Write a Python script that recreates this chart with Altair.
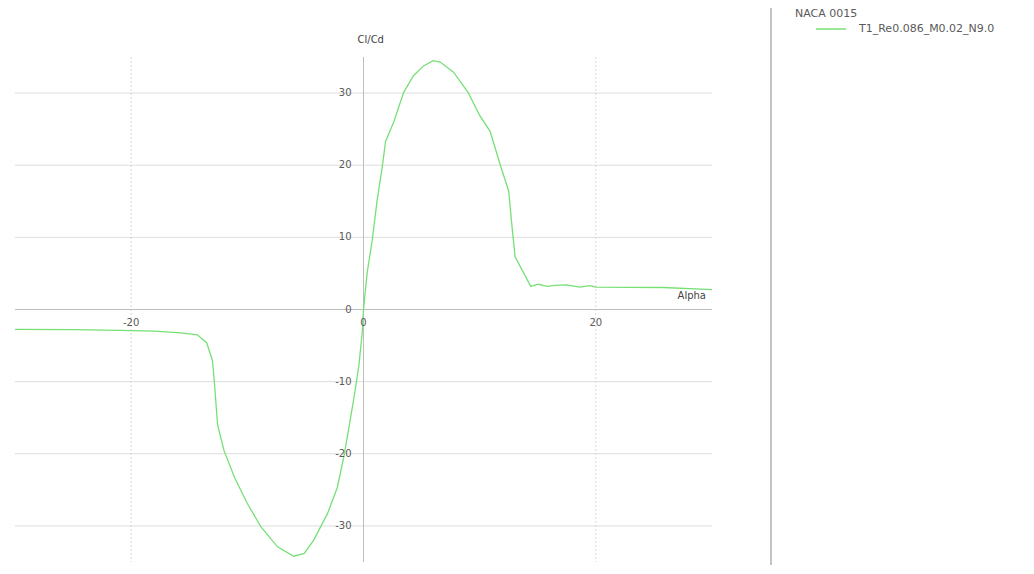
import altair as alt
import pandas as pd

# Curve: angle of attack (deg) and Cl/Cd
alpha = [-30.0, -25.0, -21.0, -18.0, -15.7, -14.3, -13.5, -13.0, -12.85, -12.56, -12.0,
         -11.1, -10.0, -8.84, -7.4, -6.0, -5.1, -4.3, -3.1, -2.26, -1.7, -1.26, -0.83,
         -0.4, -0.11, 0.0, 0.31, 0.75, 1.17, 1.6, 1.9, 2.6, 3.46, 4.3, 5.2, 6.0, 6.6,
         7.75, 9.0, 10.0, 10.9, 11.76, 12.5, 12.76, 13.05, 14.4, 15.05, 15.8, 16.5,
         17.5, 18.6, 19.5, 20.0, 25.8, 30.0]
cl_cd = [-2.75, -2.8, -2.9, -3.0, -3.25, -3.5, -4.6, -7.1, -9.8, -16.0, -19.6,
         -23.3, -26.9, -30.1, -32.9, -34.2, -33.8, -32.0, -28.3, -24.7, -20.5, -16.4, -12.3,
         -7.8, -3.2, 0.0, 5.0, 9.6, 15.1, 19.6, 23.3, 26.0, 30.1, 32.4, 33.8, 34.5, 34.3,
         32.9, 30.1, 26.9, 24.7, 20.1, 16.4, 11.9, 7.3, 3.2, 3.5, 3.2, 3.35,
         3.4, 3.1, 3.3, 3.1, 3.05, 2.75]
series_name = "T1_Re0.086_M0.02_N9.0"
legend_title = "NACA 0015"

x_ticks = [-20, 0, 20]
y_ticks = [-30, -20, -10, 0, 10, 20, 30]
x_grid = [-20, 20]
y_grid = [-30, -20, -10, 10, 20, 30]

X_DOMAIN = [-30, 30]
Y_DOMAIN = [-35, 35]
W, H = 697, 505
GREEN = "#76e076"
FONT = "DejaVu Sans"
LABEL_COLOR = "#5a5a5a"

xs = alt.Scale(domain=X_DOMAIN, nice=False, zero=False)
ys = alt.Scale(domain=Y_DOMAIN, nice=False, zero=False)

curve_df = pd.DataFrame({"alpha": alpha, "clcd": cl_cd, "series": series_name})
hgrid_df = pd.DataFrame({"v": y_grid})
vgrid_df = pd.DataFrame({"v": x_grid})
xlab_df = pd.DataFrame({"v": x_ticks, "t": [str(v) for v in x_ticks], "z": 0})
ylab_df = pd.DataFrame({"v": y_ticks, "t": [str(v) for v in y_ticks], "z": 0})
zero_df = pd.DataFrame({"z": [0]})

hgrid = alt.Chart(hgrid_df).mark_rule(color="#dddddd", strokeWidth=1).encode(
    y=alt.Y("v:Q", scale=ys, axis=None))
vgrid = alt.Chart(vgrid_df).mark_rule(color="#d6d6d6", strokeWidth=1, strokeDash=[2, 2]).encode(
    x=alt.X("v:Q", scale=xs, axis=None))
xaxis = alt.Chart(zero_df).mark_rule(color="#bdbdbd", strokeWidth=1).encode(
    y=alt.Y("z:Q", scale=ys, axis=None))
yaxis = alt.Chart(zero_df).mark_rule(color="#bdbdbd", strokeWidth=1).encode(
    x=alt.X("z:Q", scale=xs, axis=None))

line = alt.Chart(curve_df).mark_line(strokeWidth=1.3).encode(
    x=alt.X("alpha:Q", scale=xs, axis=None),
    y=alt.Y("clcd:Q", scale=ys, axis=None),
    color=alt.Color("series:N", scale=alt.Scale(range=[GREEN]),
                    legend=alt.Legend(title=legend_title, orient="none",
                                      legendX=780, legendY=-49,
                                      symbolType="stroke", symbolSize=900,
                                      symbolStrokeWidth=1.5, symbolOffset=20,
                                      labelOffset=12, titlePadding=-6,
                                      titleFont=FONT, titleFontSize=11,
                                      titleFontWeight="normal", titleColor=LABEL_COLOR,
                                      labelFont=FONT, labelFontSize=11,
                                      labelColor=LABEL_COLOR)),
)

xlabels = alt.Chart(xlab_df).mark_text(font=FONT, fontSize=10, color=LABEL_COLOR,
                                       align="center", baseline="middle", dy=13).encode(
    x=alt.X("v:Q", scale=xs, axis=None), y=alt.Y("z:Q", scale=ys, axis=None), text="t:N")
ylabels = alt.Chart(ylab_df).mark_text(font=FONT, fontSize=10, color=LABEL_COLOR,
                                       align="right", baseline="middle", dx=-12).encode(
    x=alt.X("z:Q", scale=xs, axis=None), y=alt.Y("v:Q", scale=ys, axis=None), text="t:N")

alpha_title = alt.Chart(zero_df).mark_text(font=FONT, fontSize=10, color="#444444",
                                           align="right", baseline="middle",
                                           dx=-6, dy=-14, text="Alpha").encode(
    x=alt.value(W), y=alt.Y("z:Q", scale=ys, axis=None))
clcd_title = alt.Chart(zero_df).mark_text(font=FONT, fontSize=10, color="#444444",
                                          align="left", baseline="middle",
                                          dx=-6, text="Cl/Cd").encode(
    x=alt.X("z:Q", scale=xs, axis=None), y=alt.value(-17))

separator = alt.Chart(zero_df).mark_rule(color="#c4c4c4", strokeWidth=2).encode(
    x=alt.value(756), y=alt.value(-49), y2=alt.value(509))

chart = alt.layer(hgrid, vgrid, xaxis, yaxis, line, xlabels, ylabels,
                  alpha_title, clcd_title, separator).properties(
    width=W, height=H,
    autosize=alt.AutoSizeParams(type="none"),
    padding={"left": 7, "top": 49, "right": 312, "bottom": 3},
).configure_view(stroke=None)

chart.save("out.html", embed_options={"renderer": "svg", "actions": False})
